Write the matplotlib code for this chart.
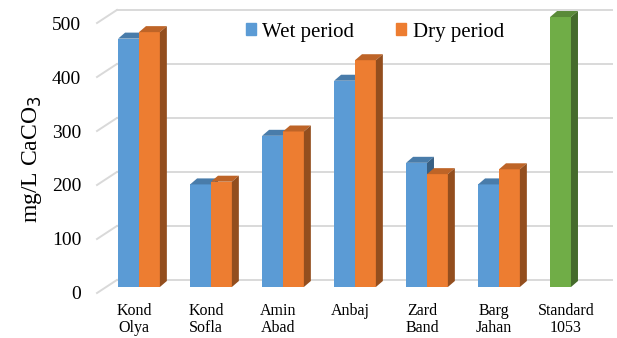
import numpy as np
import matplotlib
matplotlib.use("Agg")
import matplotlib.pyplot as plt
from matplotlib.patches import Polygon, Patch

plt.rcParams['font.family'] = ['Liberation Serif', 'DejaVu Serif']

sites = ['Kond\nOlya', 'Kond\nSofla', 'Amin\nAbad', 'Anbaj', 'Zard\nBand', 'Barg\nJahan', 'Standard\n1053']
wet = [460, 190, 280, 382, 230, 190, 1053]
dry = [472, 195, 288, 420, 209, 218, None]
yticks = [0, 100, 200, 300, 400, 500]
ymax = 500

c_wet, c_dry, c_std = '#5B9BD5', '#ED7D31', '#70AD47'

def shade(c, f):
    r, g, b = matplotlib.colors.to_rgb(c)
    return (r * f, g * f, b * f)

fig = plt.figure(figsize=(6.17, 3.38), dpi=100)
ax = fig.add_axes([95 / 617, 38 / 338, 522 / 617, 300 / 338])
ax.set_xlim(-0.611, 6.639)
ax.set_ylim(-24.07, 531.5)
for s in ax.spines.values():
    s.set_visible(False)

# depth of the bars and of the side wall, in data units
bw = 0.29
ddx, ddy = 0.097, 11.1
wall_front_x, wall_back_x = -0.583, -0.306
wall_dy = 11.1

# perspective gridlines: diagonal on the left wall, then across the back wall
for t in yticks:
    ax.plot([wall_front_x, wall_back_x], [t - wall_dy, t + wall_dy + 2], color='#D9D9D9', lw=1.4, zorder=1)
    ax.plot([wall_back_x, 6.57], [t + wall_dy + 2, t + wall_dy + 2], color='#D9D9D9', lw=1.4, zorder=1)

def bar3d(x0, v, color, z):
    h = min(v, ymax)
    x1 = x0 + bw
    ax.bar(x0, h, width=bw, align='edge', color=color, lw=0, zorder=z)
    top = Polygon([(x0, h), (x1, h), (x1 + ddx, h + ddy), (x0 + ddx, h + ddy)],
                  closed=True, fc=shade(color, 0.8), ec='none', zorder=z)
    side = Polygon([(x1, 0), (x1, h), (x1 + ddx, h + ddy), (x1 + ddx, ddy)],
                   closed=True, fc=shade(color, 0.62), ec='none', zorder=z)
    ax.add_patch(top)
    ax.add_patch(side)

x = np.arange(len(sites))
for i in x:
    z = 3 + 2 * i
    bar3d(i - bw, wet[i], c_std if dry[i] is None else c_wet, z)
    if dry[i] is not None:
        bar3d(i, dry[i], c_dry, z + 1)

ax.set_yticks([t - wall_dy for t in yticks], labels=[str(t) for t in yticks])
ax.set_xticks(x - 0.07, labels=sites)
ax.tick_params(axis='y', length=0, pad=10, labelsize=14)
ax.tick_params(axis='x', length=0, pad=2, labelsize=11.5)
for lbl in ax.get_xticklabels():
    lbl.set_linespacing(1.08)

ax.set_ylabel('mg/L CaCO$_3$', fontsize=17)
ax.yaxis.set_label_coords(-0.098, 0.47)

handles = [Patch(color=c_wet, label='Wet period'), Patch(color=c_dry, label='Dry period')]
ax.legend(handles=handles, loc='center', bbox_to_anchor=(0.536, 0.893), ncol=2, frameon=False,
          fontsize=15, handlelength=0.5, handleheight=0.5, handletextpad=0.3, columnspacing=2.0)

fig.savefig('out.png', dpi=100)
